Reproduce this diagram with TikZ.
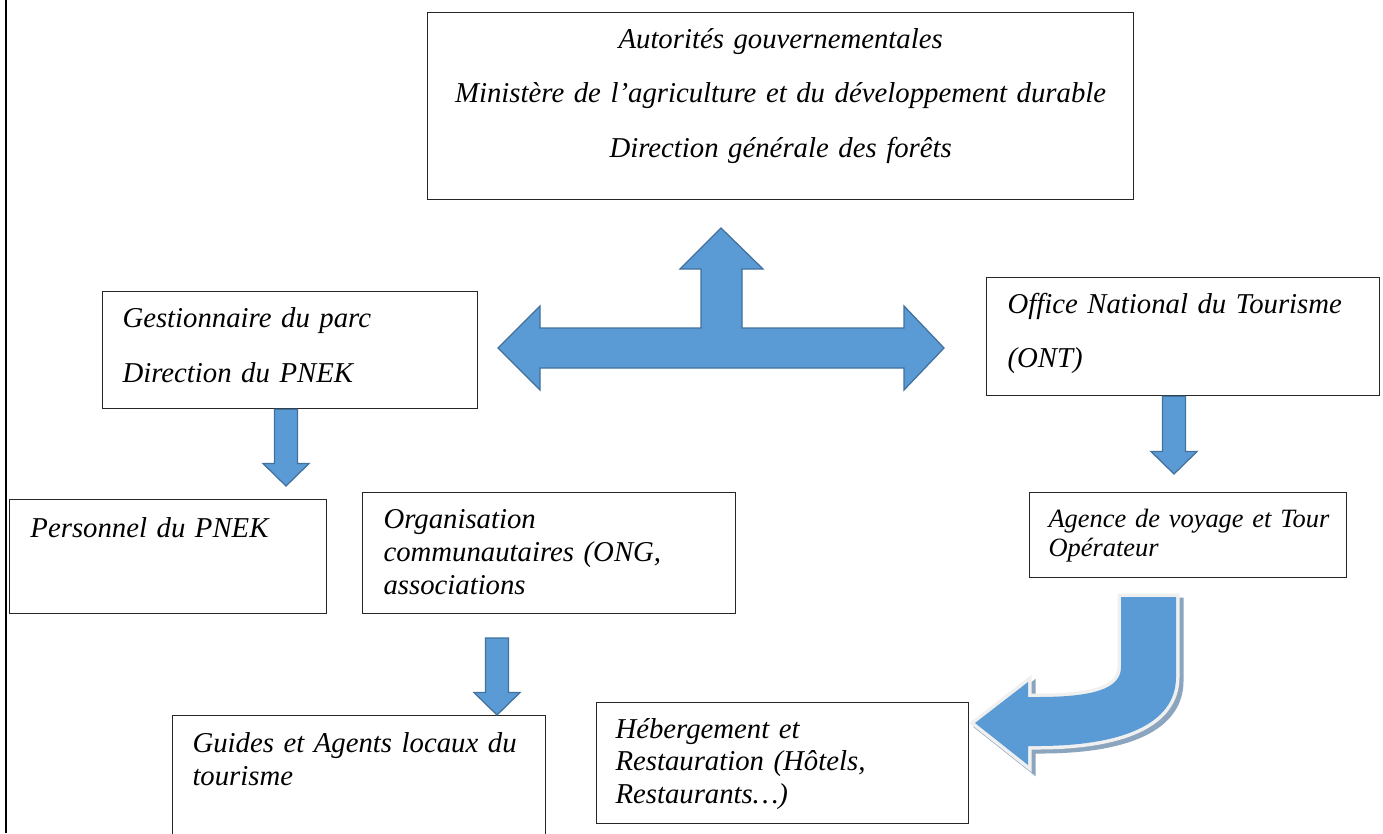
\documentclass[tikz,border=0pt]{standalone}
\usepackage{fontspec}
\setmainfont{Liberation Serif}
\usetikzlibrary{calc}

\definecolor{arrowfill}{RGB}{91,155,213}
\definecolor{arrowline}{RGB}{65,113,156}
\definecolor{arrowshade}{RGB}{140,165,190}
\definecolor{arrowrim}{RGB}{240,240,240}

% down block arrow from #1 to its tip #2
\newcommand{\blockdown}[2]{%
  \path[blockarrow] let \p1=#1, \p2=#2 in
    (\x1-4.6pt,\y1) -- (\x1+4.6pt,\y1) -- (\x1+4.6pt,\y2+9pt)
    -- (\x1+9.2pt,\y2+9pt) -- (\x1,\y2) -- (\x1-9.2pt,\y2+9pt)
    -- (\x1-4.6pt,\y2+9pt) -- cycle;}

% outline of the turning arrow
\newcommand{\uturnpath}{(1121,597) -- (1176,597) -- (1176,677)
  .. controls (1176,725) and (1120,746) .. (1037,746) -- (1028,746)
  -- (1028,765) -- (975,723) -- (1028,682) -- (1028,697) -- (1037,697)
  .. controls (1090,697) and (1121,690) .. (1121,667) -- cycle}

\begin{document}
\begin{tikzpicture}[
  x=0.4pt, y=-0.4pt,
  box/.style={draw=black!85, line width=0.5pt, anchor=north west, inner sep=0pt},
  boxtext/.style={anchor=base west, inner sep=0pt, align=left, text width=145pt,
    font=\fontsize{11.5}{13.2}\selectfont\itshape},
  blockarrow/.style={fill=arrowfill, draw=arrowline, line width=0.5pt, line join=miter}
]
  \clip (0,0) rectangle (1383,833);
  \fill[white] (0,0) rectangle (1383,833);
  \draw[line width=0.7pt] (6,0) -- (6,833);

  % boxes
  \node[box, minimum width=282.4pt, minimum height=74.8pt] (gov) at (427,12) {};
  \node[box, minimum width=150pt, minimum height=46.8pt] (gest) at (102,291) {};
  \node[box, minimum width=157.2pt, minimum height=47.2pt] (ont) at (986,277) {};
  \node[box, minimum width=126.8pt, minimum height=45.6pt] (pers) at (9,499) {};
  \node[box, minimum width=149.2pt, minimum height=48.4pt] (org) at (362,492) {};
  \node[box, minimum width=126.8pt, minimum height=34pt] (agence) at (1029,492) {};
  \node[box, minimum width=149.2pt, minimum height=52pt] (guides) at (172,715) {};
  \node[box, minimum width=148.8pt, minimum height=48.4pt] (heberg) at (596,702) {};

  % texts
  \node[boxtext, anchor=base, align=center, text width=282pt,
    font=\fontsize{11.5}{21.8}\selectfont\itshape] (gov-t) at ($(gov.north)+(0,36)$)
    {Autorités gouvernementales\\Ministère de l’agriculture et du développement durable\\Direction générale des forêts};
  \node[boxtext, font=\fontsize{11.5}{22}\selectfont\itshape] (gest-t) at ($(gest.north west)+(20,36)$)
    {Gestionnaire du parc\\Direction du PNEK};
  \node[boxtext, font=\fontsize{11.5}{21.6}\selectfont\itshape] (ont-t) at ($(ont.north west)+(21,36)$)
    {Office National du Tourisme\\(ONT)};
  \node[boxtext] (pers-t) at ($(pers.north west)+(21,38)$) {Personnel du PNEK};
  \node[boxtext] (org-t) at ($(org.north west)+(21,36)$)
    {Organisation\\communautaires (ONG,\\associations};
  \node[boxtext, font=\fontsize{10.57}{11.6}\selectfont\itshape] (agence-t) at ($(agence.north west)+(19,35)$)
    {Agence de voyage et Tour\\Opérateur};
  \node[boxtext] (guides-t) at ($(guides.north west)+(20,37)$)
    {Guides et Agents locaux du\\tourisme};
  \node[boxtext, font=\fontsize{11.5}{13}\selectfont\itshape] (heberg-t) at ($(heberg.north west)+(19,36)$)
    {Hébergement et\\Restauration (Hôtels,\\Restaurants…)};

  % three-way arrow
  \path[blockarrow] (498,348) -- (540,306) -- (540,328) -- (701,328) -- (701,269)
    -- (680,269) -- (721,228) -- (763,269) -- (742,269) -- (742,328) -- (904,328)
    -- (904,306) -- (944,348) -- (904,390) -- (904,368) -- (540,368) -- (540,390) -- cycle;

  % down arrows
  \coordinate (gest-tip) at (286,486);
  \coordinate (ont-tip) at (1174,474);
  \coordinate (org-tail) at (497,638);
  \blockdown{(gest.south -| gest-tip)}{(gest-tip)}
  \blockdown{(ont.south -| ont-tip)}{(ont-tip)}
  \blockdown{(org-tail)}{(guides.north -| org-tail)}

  % turning arrow
  \begin{scope}[shift={(4,4)}]
    \filldraw[arrowshade, line width=2.8pt] \uturnpath;
  \end{scope}
  \draw[arrowrim, line width=2.8pt] \uturnpath;
  \fill[arrowfill] \uturnpath;
\end{tikzpicture}
\end{document}
